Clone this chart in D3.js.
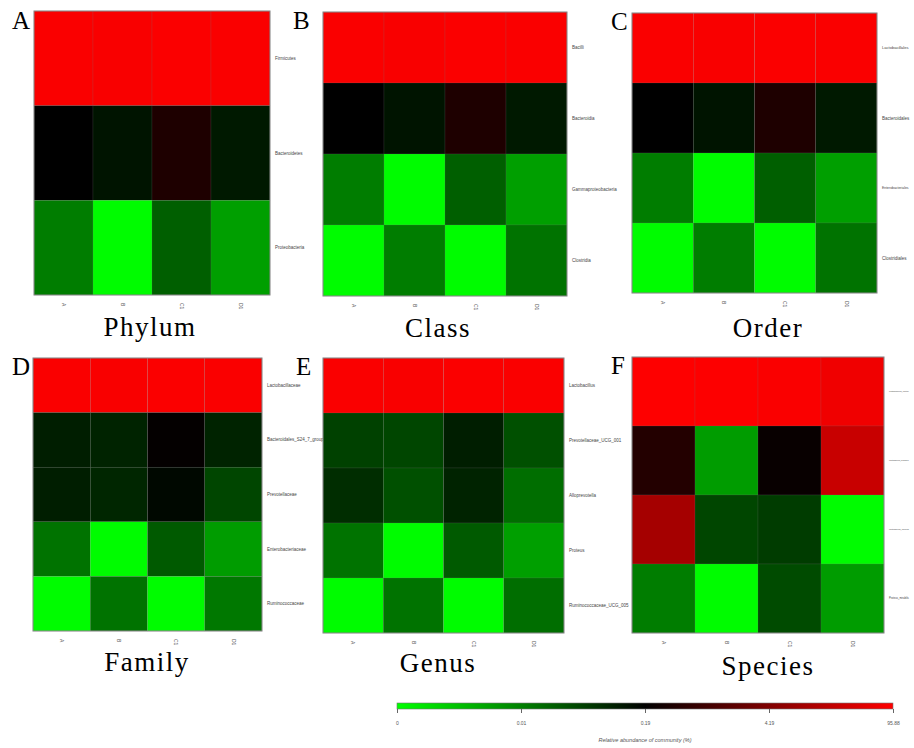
<!DOCTYPE html>
<html><head><meta charset="utf-8">
<script src="https://cdn.jsdelivr.net/npm/d3@7"></script>
<style>body{margin:0;background:#fff}svg{display:block}</style>
</head><body><svg id="c" width="914" height="748"></svg>
<script>
// ---------- data ----------
const samples = ["A", "B", "C1", "D1"];

const phylumTaxa = ["Firmicutes", "Bacteroidetes", "Proteobacteria"];
const phylumValues = [
  [92.3, 91.5, 93.0, 92.0],
  [0.19, 0.162, 1.13, 0.155],
  [0.0135, 0.0002, 0.056, 0.0075]
];

const classTaxa = ["Bacilli", "Bacteroidia", "Gammaproteobacteria", "Clostridia"];
const classValues = [
  [92.3, 91.5, 93.0, 92.0],
  [0.19, 0.162, 1.13, 0.155],
  [0.0135, 0.0002, 0.056, 0.0075],
  [0.0002, 0.0135, 0.0002, 0.0276]
];

const orderTaxa = ["Lactobacillales", "Bacteroidales", "Enterobacteriales", "Clostridiales"];
const orderValues = [
  [92.3, 91.5, 93.0, 92.0],
  [0.19, 0.162, 1.13, 0.155],
  [0.0135, 0.0002, 0.056, 0.0075],
  [0.0002, 0.0135, 0.0002, 0.0276]
];

const familyTaxa = ["Lactobacillaceae", "Bacteroidales_S24_7_group", "Prevotellaceae", "Enterobacteriaceae", "Ruminococcaceae"];
const familyValues = [
  [92.3, 91.5, 93.0, 92.0],
  [0.148, 0.14, 0.3, 0.14],
  [0.148, 0.136, 0.179, 0.091],
  [0.0276, 0.0002, 0.063, 0.0078],
  [0.0002, 0.0276, 0.0002, 0.0206]
];

const genusTaxa = ["Lactobacillus", "Prevotellaceae_UCG_001", "Alloprevotella", "Proteus", "Ruminococcaceae_UCG_005"];
const genusValues = [
  [92.3, 91.5, 93.0, 92.0],
  [0.098, 0.091, 0.148, 0.077],
  [0.127, 0.077, 0.14, 0.0347],
  [0.0276, 0.0002, 0.063, 0.0075],
  [0.0002, 0.0276, 0.0002, 0.0347]
];

const speciesTaxa = ["Lactobacillus_reuteri", "Lactobacillus_johnsonii", "Lactobacillus_murinus", "Proteus_mirabilis"];
const speciesValues = [
  [95.0, 94.5, 92.3, 85.1],
  [1.29, 0.0078, 0.44, 56.3],
  [31.2, 0.091, 0.105, 0.0002],
  [0.0135, 0.0002, 0.084, 0.0078]
];

const legendTicks = [0, 0.01, 0.19, 4.19, 95.88];
const legendTickLabels = ["0", "0.01", "0.19", "4.19", "95.88"];
const legendTitle = "Relative abundance of community (%)";

// ---------- layout ----------
const panels = [
  {letter: "A", title: "Phylum",  taxa: phylumTaxa,  values: phylumValues,  x0: 34,  x1: 270, y0: 11,  y1: 295, lx: 12,  ly: 29,  tx: 150, ty: 336},
  {letter: "B", title: "Class",   taxa: classTaxa,   values: classValues,   x0: 323, x1: 567, y0: 12,  y1: 296, lx: 293, ly: 29,  tx: 438, ty: 337},
  {letter: "C", title: "Order",   taxa: orderTaxa,   values: orderValues,   x0: 632, x1: 877, y0: 13,  y1: 293, lx: 611, ly: 30,  tx: 768, ty: 337},
  {letter: "D", title: "Family",  taxa: familyTaxa,  values: familyValues,  x0: 33,  x1: 262, y0: 358, y1: 631, lx: 12,  ly: 375, tx: 147, ty: 671},
  {letter: "E", title: "Genus",   taxa: genusTaxa,   values: genusValues,   x0: 323, x1: 564, y0: 358, y1: 633, lx: 296, ly: 375, tx: 438, ty: 672},
  {letter: "F", title: "Species", taxa: speciesTaxa, values: speciesValues, x0: 632, x1: 884, y0: 357, y1: 633, lx: 611, ly: 374, tx: 768, ty: 675}
];

const tScale = d3.scaleLinear().domain(legendTicks).range([0, 0.25, 0.5, 0.75, 1]).clamp(true);
const cScale = d3.scaleLinear().domain([0, 0.5, 1]).range(["#00ff00", "#000000", "#ff0000"]);
const color = v => cScale(tScale(v));

const svg = d3.select("#c");
const serif = "'Liberation Serif', 'DejaVu Serif', serif";
const sans = "'Liberation Sans', Arial, sans-serif";
const W = 914;

panels.forEach(p => {
  const g = svg.append("g");
  const x = d3.scaleBand().domain(samples).range([p.x0, p.x1]);
  const y = d3.scaleBand().domain(p.taxa).range([p.y0, p.y1]);
  const cells = [];
  p.taxa.forEach((t, i) => samples.forEach((s, j) => cells.push({t, s, v: p.values[i][j]})));
  g.selectAll("rect.cell").data(cells).join("rect")
    .attr("class", "cell")
    .attr("x", d => x(d.s)).attr("y", d => y(d.t))
    .attr("width", x.bandwidth()).attr("height", y.bandwidth())
    .attr("fill", d => color(d.v))
    .attr("stroke", "rgba(120,120,120,0.3)").attr("stroke-width", 0.5);
  g.append("rect").attr("x", p.x0).attr("y", p.y0)
    .attr("width", p.x1 - p.x0).attr("height", p.y1 - p.y0)
    .attr("fill", "none").attr("stroke", "#888").attr("stroke-width", 1);

  // row labels (font shrunk where needed so they stay inside the page)
  const lx = p.x1 + 5;
  const maxW = W - lx - 4;
  g.selectAll("text.row").data(p.taxa).join("text")
    .attr("class", "row")
    .attr("x", lx).attr("y", d => y(d) + y.bandwidth() / 2)
    .attr("dy", "0.35em")
    .attr("font-family", sans)
    .attr("font-size", 4.5).attr("fill", "#444")
    .text(d => d)
    .each(function () {
      const w = this.getComputedTextLength();
      if (w > maxW) d3.select(this).attr("font-size", Math.max(1.5, 4.5 * maxW / w * 0.95));
    });

  // column labels (rotated)
  g.selectAll("text.col").data(samples).join("text")
    .attr("class", "col")
    .attr("transform", d => `translate(${x(d) + x.bandwidth() / 2},${p.y1 + 8}) rotate(90)`)
    .attr("dy", "0.35em")
    .attr("font-family", sans)
    .attr("font-size", 5).attr("fill", "#555")
    .text(d => d);

  g.append("text").attr("x", p.lx).attr("y", p.ly)
    .attr("font-family", serif).attr("font-size", 25).attr("fill", "#000")
    .text(p.letter);
  g.append("text").attr("x", p.tx).attr("y", p.ty).attr("text-anchor", "middle")
    .attr("font-family", serif).attr("font-size", 27).attr("letter-spacing", 1.5).attr("fill", "#000")
    .text(p.title);
});

// ---------- colour legend ----------
const lx0 = 397, lx1 = 893, ly0 = 703, lh = 6;
const lScale = d3.scaleLinear().domain(legendTicks)
  .range(d3.range(legendTicks.length).map(i => lx0 + (lx1 - lx0) * i / (legendTicks.length - 1)));
const defs = svg.append("defs");
const grad = defs.append("linearGradient").attr("id", "lg").attr("x1", "0%").attr("x2", "100%");
grad.selectAll("stop").data(legendTicks).join("stop")
  .attr("offset", (d, i) => (i / (legendTicks.length - 1) * 100) + "%")
  .attr("stop-color", d => color(d));
svg.append("rect").attr("x", lx0).attr("y", ly0).attr("width", lx1 - lx0).attr("height", lh)
  .attr("fill", "url(#lg)").attr("stroke", "#777").attr("stroke-width", 0.6);
const axis = d3.axisBottom(lScale).tickValues(legendTicks)
  .tickFormat((d, i) => legendTickLabels[i]).tickSize(4).tickPadding(8);
const ag = svg.append("g").attr("transform", `translate(0,${ly0 + lh})`).call(axis);
ag.select(".domain").remove();
ag.selectAll("line").attr("stroke", "#666");
ag.selectAll("text").attr("font-size", 5).attr("fill", "#555").attr("font-family", sans);
svg.append("text").attr("x", (lx0 + lx1) / 2).attr("y", 742).attr("text-anchor", "middle")
  .attr("font-family", sans).attr("font-size", 5.5)
  .attr("font-style", "italic").attr("fill", "#555").text(legendTitle);
</script></body></html>
